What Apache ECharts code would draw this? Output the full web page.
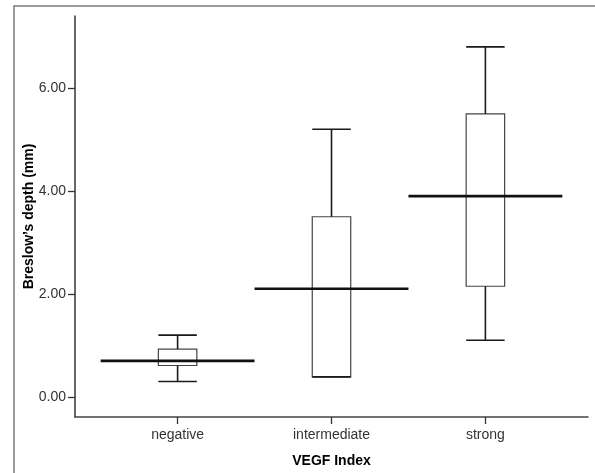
<!DOCTYPE html>
<html>
<head>
<meta charset="utf-8">
<script src="https://cdn.jsdelivr.net/npm/echarts@6/dist/echarts.min.js"></script>
<style>
html,body{margin:0;padding:0;background:#fff;}
#chart{width:595px;height:473px;}
</style>
</head>
<body>
<div id="chart"></div>
<script>
const categories = ['negative', 'intermediate', 'strong'];
const whiskerLow = [0.30, 0.39, 1.10];
const q1 = [0.61, 0.39, 2.15];
const median = [0.70, 2.10, 3.90];
const q3 = [0.93, 3.50, 5.50];
const whiskerHigh = [1.20, 5.20, 6.80];
const yTicks = [0, 2, 4, 6];
const xTicks = [1, 2, 3];

const data = categories.map((c, i) => [i + 1, whiskerLow[i], q1[i], median[i], q3[i], whiskerHigh[i]]);

const chart = echarts.init(document.getElementById('chart'), null, {renderer: 'canvas'});
const textFont = 'Liberation Sans, Arial, sans-serif';

chart.setOption({
  animation: false,
  backgroundColor: '#fff',
  graphic: [{
    type: 'polyline',
    silent: true,
    shape: {points: [[14, 480], [14, 6], [600, 6]]},
    style: {stroke: '#7a7a7a', lineWidth: 1.5, fill: null}
  }],
  grid: {left: 75, top: 16, right: 7, bottom: 56, containLabel: false},
  xAxis: {
    type: 'value',
    min: 1 / 3,
    max: 11 / 3,
    name: 'VEGF Index',
    nameLocation: 'middle',
    nameGap: 37,
    nameMoveOverlap: false,
    nameTextStyle: {fontFamily: textFont, fontSize: 14, fontWeight: 'bold', color: '#000'},
    axisLine: {show: true, onZero: false, lineStyle: {color: '#444', width: 1.5}},
    axisTick: {show: true, customValues: xTicks, length: 7, lineStyle: {color: '#333', width: 1.3}},
    axisLabel: {
      customValues: xTicks,
      margin: 11,
      fontFamily: textFont,
      fontSize: 14,
      color: '#333',
      formatter: v => categories[Math.round(v) - 1] || ''
    },
    splitLine: {show: false}
  },
  yAxis: {
    type: 'value',
    min: -0.39,
    max: 7.4,
    name: 'Breslow\u2019s depth (mm)',
    nameLocation: 'middle',
    nameGap: 39,
    nameMoveOverlap: false,
    nameTextStyle: {fontFamily: textFont, fontSize: 14, fontWeight: 'bold', color: '#000'},
    axisLine: {show: true, onZero: false, lineStyle: {color: '#333', width: 1.5}},
    axisTick: {show: true, customValues: yTicks, length: 7, lineStyle: {color: '#333', width: 1.3}},
    axisLabel: {
      customValues: yTicks,
      margin: 9,
      fontFamily: textFont,
      fontSize: 14,
      color: '#333',
      formatter: v => Number(v).toFixed(2)
    },
    splitLine: {show: false}
  },
  series: [{
    type: 'custom',
    data: data,
    encode: {x: 0, y: [1, 2, 3, 4, 5]},
    clip: false,
    renderItem: function (params, api) {
      const x = api.value(0);
      const pLo = api.coord([x, api.value(1)]);
      const pQ1 = api.coord([x, api.value(2)]);
      const pMed = api.coord([x, api.value(3)]);
      const pQ3 = api.coord([x, api.value(4)]);
      const pHi = api.coord([x, api.value(5)]);
      const unit = api.size([1, 0])[0];
      const boxW = unit * 0.25;
      const cx = pMed[0];
      const lineStyle = {stroke: '#1a1a1a', lineWidth: 1.6};
      return {
        type: 'group',
        children: [
          {type: 'rect', shape: {x: cx - boxW / 2, y: pQ3[1], width: boxW, height: pQ1[1] - pQ3[1]},
            style: {fill: '#fff', stroke: '#444', lineWidth: 1.2}},
          {type: 'line', shape: {x1: cx, y1: pHi[1], x2: cx, y2: pQ3[1]}, style: lineStyle},
          {type: 'line', shape: {x1: cx, y1: pQ1[1], x2: cx, y2: pLo[1]}, style: lineStyle},
          {type: 'line', shape: {x1: cx - boxW / 2, y1: pHi[1], x2: cx + boxW / 2, y2: pHi[1]}, style: lineStyle},
          {type: 'line', shape: {x1: cx - boxW / 2, y1: pLo[1], x2: cx + boxW / 2, y2: pLo[1]}, style: lineStyle},
          {type: 'line', shape: {x1: cx - unit / 2, y1: pMed[1], x2: cx + unit / 2, y2: pMed[1]},
            style: {stroke: '#111', lineWidth: 2.6}}
        ]
      };
    }
  }]
});
</script>
</body>
</html>
